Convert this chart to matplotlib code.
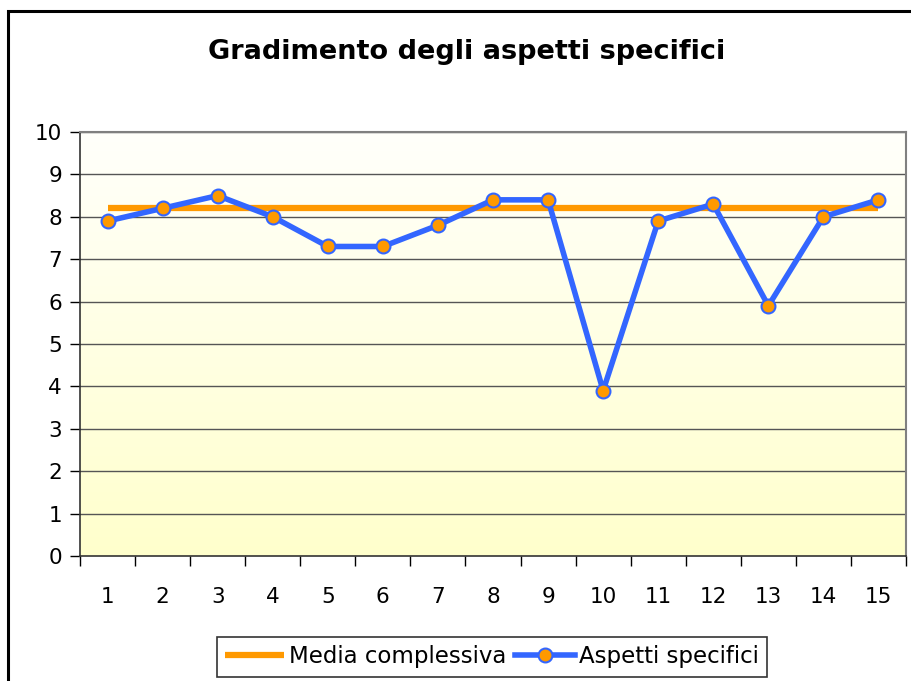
import matplotlib

matplotlib.use("Agg")
import matplotlib.pyplot as plt
import numpy as np
from matplotlib.colors import LinearSegmentedColormap
from matplotlib.patches import Rectangle


# data
categories = list(range(1, 16))
aspetti = [7.9, 8.2, 8.5, 8.0, 7.3, 7.3, 7.8, 8.4, 8.4, 3.9, 7.9, 8.3, 5.9, 8.0, 8.4]
media = [8.2] * len(categories)
y_ticks = list(range(0, 11))

ORANGE = "#FF9900"
BLUE = "#3366FF"


def main():
    plt.rcParams["font.family"] = ["DejaVu Sans"]
    fig = plt.figure(figsize=(9.12, 6.81), dpi=100)

    # outer chart border, runs off the right and bottom edges
    fig.patches.append(
        Rectangle((8 / 912, -0.05), 1.0, 1 - 11 / 681 + 0.05, transform=fig.transFigure,
                  fill=False, edgecolor="black", linewidth=2.2)
    )

    ax = fig.add_axes([80 / 912, 125 / 681, 826 / 912, 424 / 681])

    # vertical gradient background, pale at top -> light yellow at bottom
    cmap = LinearSegmentedColormap.from_list("bg", ["#FFFFCC", "#FFFFFB"])
    grad = np.linspace(0, 1, 256).reshape(-1, 1)
    ax.imshow(grad, cmap=cmap, aspect="auto", extent=(0.5, 15.5, 0, 10),
              origin="lower", zorder=0)

    for yv in y_ticks[1:]:
        ax.axhline(yv, color="#555555", linewidth=1, zorder=1)

    ax.plot(categories, media, color=ORANGE, linewidth=4.5,
            solid_capstyle="butt", label="Media complessiva", zorder=2)
    ax.plot(categories, aspetti, color=BLUE, linewidth=4, marker="o",
            markersize=10, markerfacecolor=ORANGE, markeredgecolor=BLUE,
            markeredgewidth=1.5, label="Aspetti specifici", zorder=3)

    ax.set_xlim(0.5, 15.5)
    ax.set_ylim(0, 10)
    ax.set_yticks(y_ticks)
    ax.set_xticks(categories)
    ax.set_xticks(np.arange(0.5, 16, 1), minor=True)
    ax.tick_params(axis="x", which="major", length=0, pad=22, labelsize=15.5)
    ax.tick_params(axis="x", which="minor", length=7, width=1, direction="out")
    ax.tick_params(axis="y", length=7, width=1, direction="out", pad=6, labelsize=15.5)

    for side in ["top", "right"]:
        ax.spines[side].set_color("#808080")
        ax.spines[side].set_linewidth(1.5)
    for side in ["left", "bottom"]:
        ax.spines[side].set_color("#333333")
        ax.spines[side].set_linewidth(1.2)

    fig.text(0.512, 1 - 52 / 681, "Gradimento degli aspetti specifici",
             ha="center", va="center", fontsize=19.5, fontweight="bold")

    leg = fig.legend(loc="center", bbox_to_anchor=(492 / 912, 1 - 657 / 681),
                     ncol=2, fontsize=16.5, frameon=True, fancybox=False,
                     edgecolor="#333333", framealpha=1, handlelength=2.6,
                     handletextpad=0.2, columnspacing=0.4, borderpad=0.35)
    leg.get_frame().set_linewidth(1.2)

    fig.savefig("out.png", dpi=100)
    plt.close(fig)


if __name__ == "__main__":
    main()
